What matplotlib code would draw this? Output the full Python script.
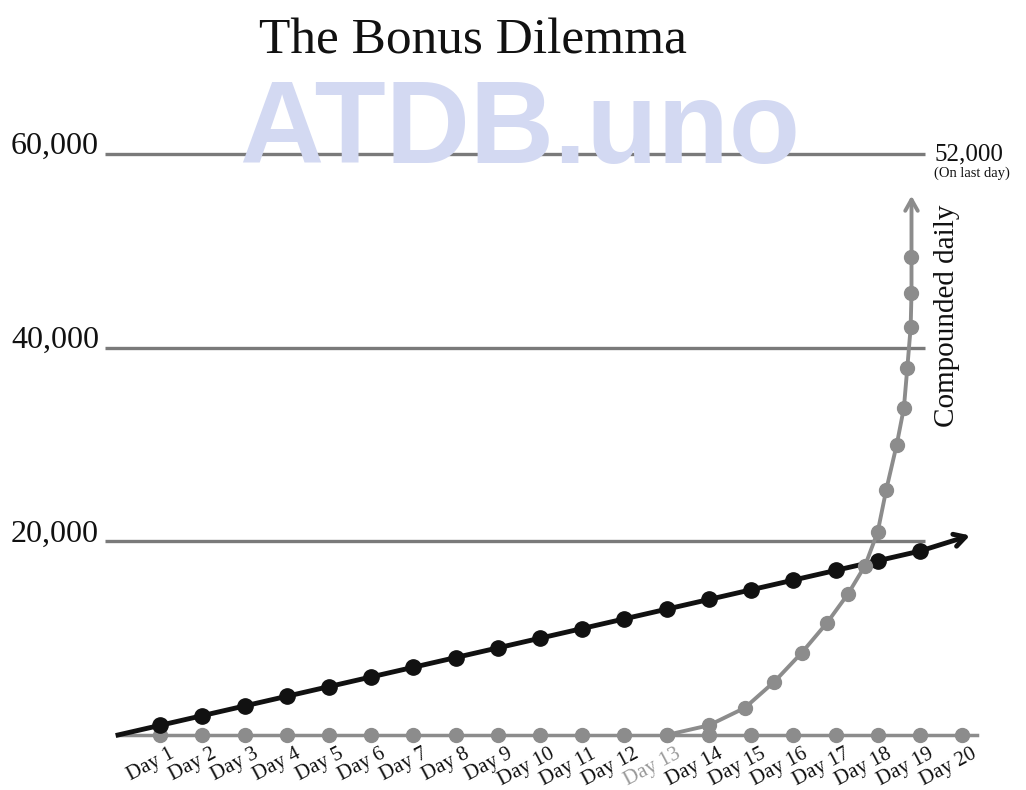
import matplotlib.pyplot as plt

plt.rcParams['font.family'] = ['Liberation Serif', 'DejaVu Serif']

# Data
days = list(range(1, 21))
day_labels = ["Day %d" % d for d in days]

# $1,000 a day, simple
linear_x = list(range(0, 20))
linear_y = [1000 * d for d in linear_x]
linear_tip = (20.25, 20700)

# the hand drawn "compounded daily" curve
comp_x = [13.0, 14.0, 14.85, 15.55, 16.2, 16.8, 17.3, 17.7, 18.0, 18.2, 18.45, 18.62, 18.7, 18.78, 18.8, 18.8]
comp_y = [0, 1000, 2800, 5500, 8500, 11600, 14600, 17500, 21000, 25300, 30000, 33800, 37900, 42100, 45700, 49400]
comp_tip = (18.8, 56000)

grid_vals = [20000, 40000, 60000]
grid_labels = ["20,000", "40,000", "60,000"]

GRAY = '#8c8c8c'
BLACK = '#111111'

fig = plt.figure(figsize=(10.26, 7.90), dpi=100)
ax = fig.add_axes([100 / 1026, 10 / 790, 890 / 1026, 640 / 790])
ax.set_xlim(-0.427, 20.66)
ax.set_ylim(-4650, 61470)
ax.axis('off')

# horizontal guide lines
ax.hlines(grid_vals, -0.31, 19.12, color='#7a7a7a', lw=2.4, zorder=1)
for v, lab in zip(grid_vals, grid_labels):
    ax.text(-0.45, v, lab, ha='right', va='baseline', fontsize=23, color='#111')

# flat gray line along the bottom
ax.plot([0, 20.35], [0, 0], color=GRAY, lw=2.5, zorder=2)
ax.plot(days, [0] * len(days), 'o', color=GRAY, ms=10, zorder=3)

# linear (black)
ax.plot(linear_x, linear_y, '-', color=BLACK, lw=3.5, zorder=4)
ax.plot(linear_x[1:], linear_y[1:], 'o', color=BLACK, ms=11, zorder=4)
ax.annotate('', xy=linear_tip, xytext=(linear_x[-1], linear_y[-1]),
            arrowprops=dict(arrowstyle='->,head_length=0.8,head_width=0.45', color=BLACK, lw=3.5),
            zorder=4)

# compounded (gray)
ax.plot(comp_x, comp_y, '-', color=GRAY, lw=2.8, zorder=5)
ax.plot(comp_x, comp_y, 'o', color=GRAY, ms=10, zorder=5)
ax.annotate('', xy=comp_tip, xytext=(comp_x[-1], comp_y[-1]),
            arrowprops=dict(arrowstyle='->,head_length=0.8,head_width=0.45', color=GRAY, lw=2.8),
            zorder=5)

# day labels
for d, lab in zip(days, day_labels):
    ax.text(d + 0.2, -1000, lab, rotation=28, rotation_mode='anchor',
            ha='right', va='top', fontsize=15,
            color='#9a9a9a' if d == 13 else '#111')

fig.text(473 / 1026, 1 - 53 / 790, 'The Bonus Dilemma', ha='center', va='baseline',
         fontsize=37, color='#111')
fig.text(935 / 1026, 1 - 160 / 790, '52,000', ha='left', va='baseline', fontsize=18, color='#111')
fig.text(934 / 1026, 1 - 177 / 790, '(On last day)', ha='left', va='baseline', fontsize=10.5, color='#111')
fig.text(947 / 1026, 1 - 316 / 790, 'Compounded daily', rotation=90, ha='center', va='center',
         fontsize=21, color='#111')

# watermark
fig.text(520 / 1026, 1 - 163 / 790, 'ATDB.uno', ha='center', va='baseline', fontsize=84,
         fontweight='bold', family='Liberation Sans', color='#d3d9f2', zorder=10)

fig.savefig('out.png', dpi=100)
